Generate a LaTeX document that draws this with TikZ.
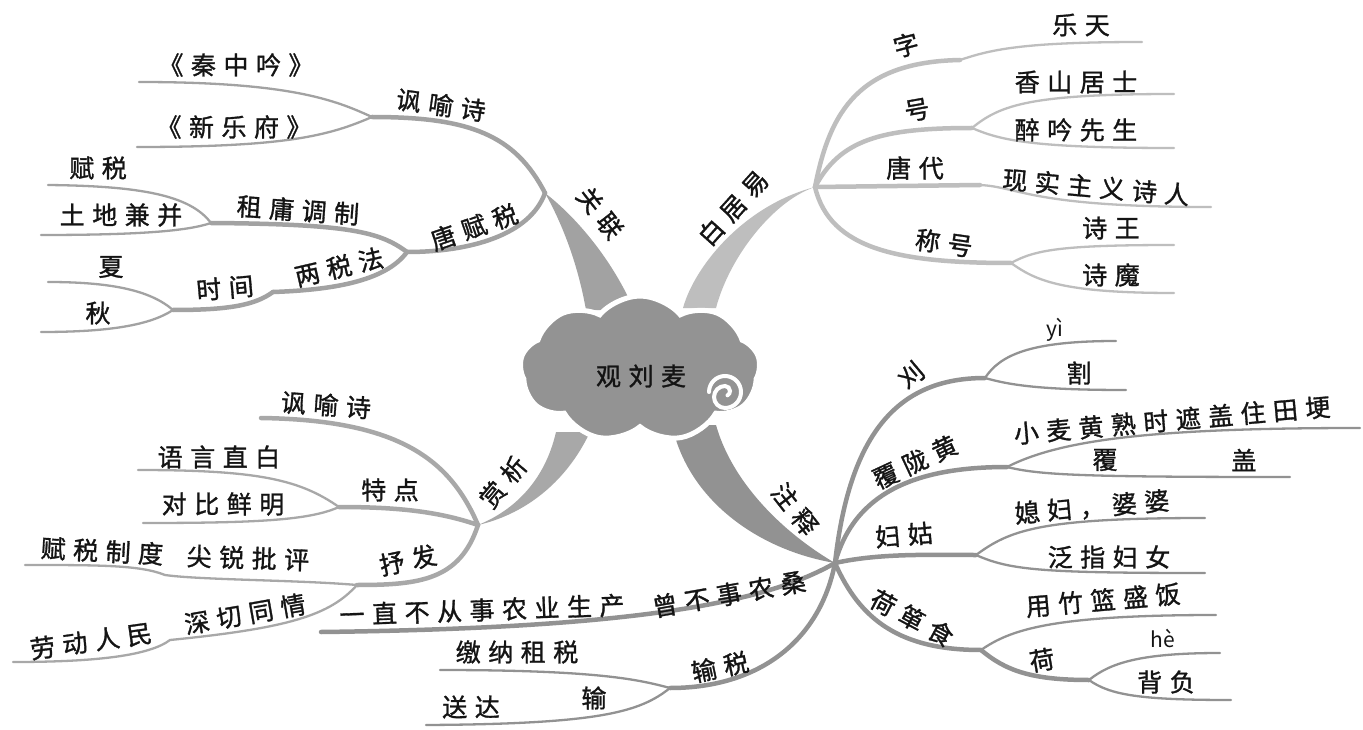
\documentclass[tikz,border=0pt]{standalone}
\usepackage{fontspec}
\setmainfont{Noto Sans CJK SC}
\newfontfamily\cjk[LetterSpace=30,FakeBold=1.2]{Noto Sans CJK SC}
\newfontfamily\pyfont{Noto Sans CJK SC}
\usetikzlibrary{shapes.symbols}
\definecolor{cTL}{HTML}{A2A2A2}
\definecolor{cTR}{HTML}{BEBEBE}
\definecolor{cBR}{HTML}{929292}
\definecolor{cBL}{HTML}{A8A8A8}
\definecolor{cloudc}{HTML}{939393}
\definecolor{txt}{HTML}{141414}
\begin{document}
\begin{tikzpicture}[x=1pt,y=1pt,
  lbl/.style={font={\cjk\fontsize{25}{29}\selectfont}, inner sep=0pt, text=txt},
  py/.style={font={\pyfont\fontsize{21}{24}\selectfont}, inner sep=0pt, text=txt},
  sub/.style={line width=4.5pt, line cap=round},
  leaf/.style={line width=2.3pt, line cap=round}]
\useasboundingbox (0,0) rectangle (1363,-730);
\fill[white] (0,0) rectangle (1363,-730);

% ---------- junction coordinates ----------
\coordinate (Jgl) at (545,-193);
\coordinate (jfy) at (372,-117);
\coordinate (eqzy) at (139,-82);
\coordinate (exyf) at (137,-147);
\coordinate (jtf) at (407,-252);
\coordinate (jzy) at (211,-223);
\coordinate (efs) at (48,-185);
\coordinate (etd) at (41,-235);
\coordinate (jls) at (273,-292);
\coordinate (jsj) at (173,-310);
\coordinate (exia) at (48,-282);
\coordinate (eqiu) at (41,-332);

\coordinate (Jby) at (815,-187);
\coordinate (jz) at (960,-60);
\coordinate (elt) at (1142,-42);
\coordinate (jh) at (972,-128);
\coordinate (exs) at (1174,-94);
\coordinate (ezy) at (1174,-148);
\coordinate (jtd) at (980,-185);
\coordinate (exz) at (1211,-207);
\coordinate (jch) at (1011,-263);
\coordinate (esw) at (1174,-245);
\coordinate (esm) at (1174,-293);

\coordinate (Jzs) at (835,-563);
\coordinate (jy) at (985,-378);
\coordinate (eyi) at (1116,-341);
\coordinate (ege) at (1126,-390);
\coordinate (jf) at (1007,-467);
\coordinate (exm) at (1360,-428);
\coordinate (efg) at (1290,-477);
\coordinate (jfg) at (976,-555);
\coordinate (exf) at (1205,-518);
\coordinate (efz) at (1205,-573);
\coordinate (jhd) at (981,-650);
\coordinate (eyz) at (1216,-615);
\coordinate (jhe) at (1089,-680);
\coordinate (ehe) at (1220,-653);
\coordinate (ebf) at (1231,-700);
\coordinate (ecb) at (321,-632);
\coordinate (jss) at (670,-688);
\coordinate (ejn) at (440,-670);
\coordinate (esd) at (426,-725);

\coordinate (Jsx) at (478,-525);
\coordinate (efy) at (261,-418);
\coordinate (jtp) at (339,-507);
\coordinate (eyy) at (138,-470);
\coordinate (edb) at (143,-523);
\coordinate (jsf) at (357,-585);
\coordinate (bsf) at (165,-575);
\coordinate (efz2) at (25,-565);
\coordinate (bld) at (170,-640);
\coordinate (eld) at (13,-662);

% ---------- top-left ----------
\begin{scope}[draw=cTL]
\draw[sub] (Jgl) .. controls (515,-135) and (470,-117) .. (jfy);
\draw[leaf] (jfy) .. controls (335,-100) and (290,-82) .. (eqzy);
\draw[leaf] (jfy) .. controls (330,-135) and (290,-147) .. (exyf);
\draw[sub] (Jgl) .. controls (530,-235) and (470,-252) .. (jtf);
\draw[sub] (jtf) .. controls (380,-232) and (350,-224) .. (jzy);
\draw[leaf] (jzy) .. controls (190,-195) and (140,-186) .. (efs);
\draw[leaf] (jzy) .. controls (190,-230) and (150,-235) .. (etd);
\draw[sub] (jtf) .. controls (385,-282) and (330,-290) .. (jls);
\draw[sub] (jls) .. controls (255,-305) and (230,-310) .. (jsj);
\draw[leaf] (jsj) .. controls (150,-290) and (110,-282) .. (exia);
\draw[leaf] (jsj) .. controls (150,-325) and (110,-332) .. (eqiu);
\end{scope}
\fill[cTL] (586,-310) .. controls (578,-265) and (563,-225) .. (Jgl)
  .. controls (580,-220) and (615,-265) .. (634,-310) -- cycle;

% ---------- top-right ----------
\begin{scope}[draw=cTR]
\draw[sub] (Jby) .. controls (830,-110) and (860,-62) .. (jz);
\draw[leaf] (jz) .. controls (990,-50) and (1020,-42) .. (elt);
\draw[sub] (Jby) .. controls (840,-140) and (880,-128) .. (jh);
\draw[leaf] (jh) .. controls (1000,-105) and (1030,-94) .. (exs);
\draw[leaf] (jh) .. controls (1000,-140) and (1030,-148) .. (ezy);
\draw[sub] (Jby) -- (jtd);
\draw[leaf] (jtd) .. controls (1020,-187) and (1030,-207) .. (exz);
\draw[sub] (Jby) .. controls (830,-250) and (900,-263) .. (jch);
\draw[leaf] (jch) .. controls (1035,-250) and (1060,-245) .. (esw);
\draw[leaf] (jch) .. controls (1035,-280) and (1060,-293) .. (esm);
\end{scope}
\fill[cTR] (683,-308) .. controls (695,-265) and (745,-205) .. (Jby)
  .. controls (775,-200) and (730,-255) .. (716,-308) -- cycle;

% ---------- bottom-right ----------
\begin{scope}[draw=cBR]
\draw[sub] (Jzs) .. controls (850,-430) and (900,-378) .. (jy);
\draw[leaf] (jy) .. controls (1000,-355) and (1030,-341) .. (eyi);
\draw[leaf] (jy) .. controls (1010,-385) and (1040,-390) .. (ege);
\draw[sub] (Jzs) .. controls (855,-490) and (920,-467) .. (jf);
\draw[leaf] (jf) .. controls (1060,-440) and (1150,-428) .. (exm);
\draw[leaf] (jf) .. controls (1040,-475) and (1080,-477) .. (efg);
\draw[sub] (Jzs) .. controls (880,-553) and (930,-555) .. (jfg);
\draw[leaf] (jfg) .. controls (1010,-530) and (1040,-518) .. (exf);
\draw[leaf] (jfg) .. controls (1010,-570) and (1040,-573) .. (efz);
\draw[sub] (Jzs) .. controls (860,-620) and (900,-650) .. (jhd);
\draw[leaf] (jhd) .. controls (1010,-630) and (1050,-615) .. (eyz);
\draw[sub] (jhd) .. controls (1005,-670) and (1030,-680) .. (jhe);
\draw[leaf] (jhe) .. controls (1110,-663) and (1140,-653) .. (ehe);
\draw[leaf] (jhe) .. controls (1110,-695) and (1140,-700) .. (ebf);
\draw[sub] (Jzs) .. controls (770,-600) and (650,-628) .. (ecb);
\draw[sub] (Jzs) .. controls (820,-640) and (760,-688) .. (jss);
\draw[leaf] (jss) .. controls (640,-680) and (600,-670) .. (ejn);
\draw[leaf] (jss) .. controls (640,-712) and (600,-724) .. (esd);
\end{scope}
\fill[cBR] (672,-425) .. controls (688,-500) and (758,-550) .. (Jzs)
  .. controls (782,-532) and (732,-482) .. (716,-425) -- cycle;

% ---------- bottom-left ----------
\begin{scope}[draw=cBL]
\draw[sub] (Jsx) .. controls (450,-460) and (400,-420) .. (efy);
\draw[sub] (Jsx) .. controls (440,-512) and (400,-507) .. (jtp);
\draw[leaf] (jtp) .. controls (300,-480) and (260,-470) .. (eyy);
\draw[leaf] (jtp) .. controls (310,-520) and (260,-523) .. (edb);
\draw[sub] (Jsx) .. controls (460,-580) and (420,-585) .. (jsf);
\draw[leaf] (jsf) .. controls (300,-580) and (200,-580) .. (bsf)
  .. controls (140,-565) and (100,-565) .. (efz2);
\draw[leaf] (jsf) .. controls (330,-615) and (290,-628) .. (bld)
  .. controls (150,-655) and (100,-662) .. (eld);
\end{scope}
\fill[cBL] (556,-432) .. controls (545,-480) and (515,-510) .. (Jsx)
  .. controls (522,-515) and (565,-485) .. (590,-432) -- cycle;

% ---------- cloud ----------
\node[cloud, cloud puffs=9, cloud puff arc=100, aspect=1.65,
      minimum width=240pt, minimum height=146pt, inner sep=0pt,
      fill=cloudc, draw=white, line width=5pt] (cloud) at (640,-369) {};
\draw[white, line width=4pt, line cap=round]
  (709,-392) arc[start angle=180, end angle=-90, radius=16]
  arc[start angle=-90, end angle=-270, radius=11]
  arc[start angle=90, end angle=-60, radius=5];
\node[lbl] (title) at (641,-376) {观刘麦};

% ---------- labels: top-left ----------
\node[lbl] (qzy) at (236,-65) {《秦中吟》};
\node[lbl] (xyf) at (234,-127) {《新乐府》};
\node[lbl, rotate=-8] (fys) at (441,-105) {讽喻诗};
\node[lbl, rotate=-52] (gl) at (600,-213) {关联};
\node[lbl, rotate=19] (tfs) at (474,-227) {唐赋税};
\node[lbl, rotate=-4] (zydz) at (298,-210) {租庸调制};
\node[lbl] (fs) at (98,-168) {赋税};
\node[lbl] (tdjb) at (121,-215) {土地兼并};
\node[lbl, rotate=13] (lsf) at (339,-267) {两税法};
\node[lbl, rotate=5] (sj) at (225,-288) {时间};
\node[lbl] (xia) at (111,-267) {夏};
\node[lbl] (qiu) at (98,-313) {秋};

% ---------- labels: top-right ----------
\node[lbl, rotate=48] (byy) at (733,-208) {白居易};
\node[lbl, rotate=15] (zi) at (906,-45) {字};
\node[lbl] (lt) at (1081,-25) {乐天};
\node[lbl, rotate=10] (hao) at (917,-110) {号};
\node[lbl] (xsjs) at (1076,-82) {香山居士};
\node[lbl] (zyxs) at (1076,-130) {醉吟先生};
\node[lbl] (tangdai) at (915,-168) {唐代};
\node[lbl, rotate=-5] (xszy) at (1096,-187) {现实主义诗人};
\node[lbl, rotate=-8] (ch) at (944,-243) {称号};
\node[lbl] (sw) at (1111,-228) {诗王};
\node[lbl] (sm) at (1111,-275) {诗魔};

% ---------- labels: bottom-right ----------
\node[lbl, rotate=-52] (zs) at (795,-509) {注释};
\node[lbl, rotate=40] (yi) at (911,-375) {刈};
\node[py] (yipy) at (1055,-330) {yì};
\node[lbl] (ge) at (1079,-373) {割};
\node[lbl, rotate=25] (flh) at (915,-462) {覆陇黄};
\node[lbl, rotate=5] (xm) at (1172,-420) {小麦黄熟时遮盖住田埂};
\node[lbl] (fu) at (1105,-460) {覆};
\node[lbl] (gai) at (1244,-460) {盖};
\node[lbl, rotate=5] (fg) at (904,-535) {妇姑};
\node[lbl, rotate=5] (xf) at (1092,-507) {媳妇，婆婆};
\node[lbl] (fzfn) at (1109,-557) {泛指妇女};
\node[lbl, rotate=-28] (hds) at (912,-618) {荷箪食};
\node[lbl, rotate=5] (yzl) at (1103,-600) {用竹篮盛饭};
\node[lbl, rotate=10] (he) at (1042,-660) {荷};
\node[py] (hepy) at (1163,-638) {hè};
\node[lbl] (bf) at (1166,-682) {背负};
\node[lbl, rotate=10] (cbs) at (729,-594) {曾不事农桑};
\node[lbl, rotate=2] (yzbc) at (482,-610) {一直不从事农业生产};
\node[lbl, rotate=12] (ss) at (720,-667) {输税};
\node[lbl] (jnzs) at (517,-652) {缴纳租税};
\node[lbl] (sd) at (471,-707) {送达};
\node[lbl] (shu) at (594,-698) {输};

% ---------- labels: bottom-left ----------
\node[lbl, rotate=50] (sx) at (503,-482) {赏析};
\node[lbl, rotate=-4] (fys2) at (326,-405) {讽喻诗};
\node[lbl] (td) at (390,-490) {特点};
\node[lbl] (yyzb) at (219,-457) {语言直白};
\node[lbl] (dbxm) at (223,-504) {对比鲜明};
\node[lbl, rotate=12] (sf) at (408,-560) {抒发};
\node[lbl, rotate=-3] (fszd) at (102,-551) {赋税制度};
\node[lbl, rotate=-2] (jrpp) at (248,-558) {尖锐批评};
\node[lbl, rotate=10] (sqtq) at (245,-614) {深切同情};
\node[lbl, rotate=8] (ldrm) at (91,-641) {劳动人民};
\end{tikzpicture}
\end{document}
